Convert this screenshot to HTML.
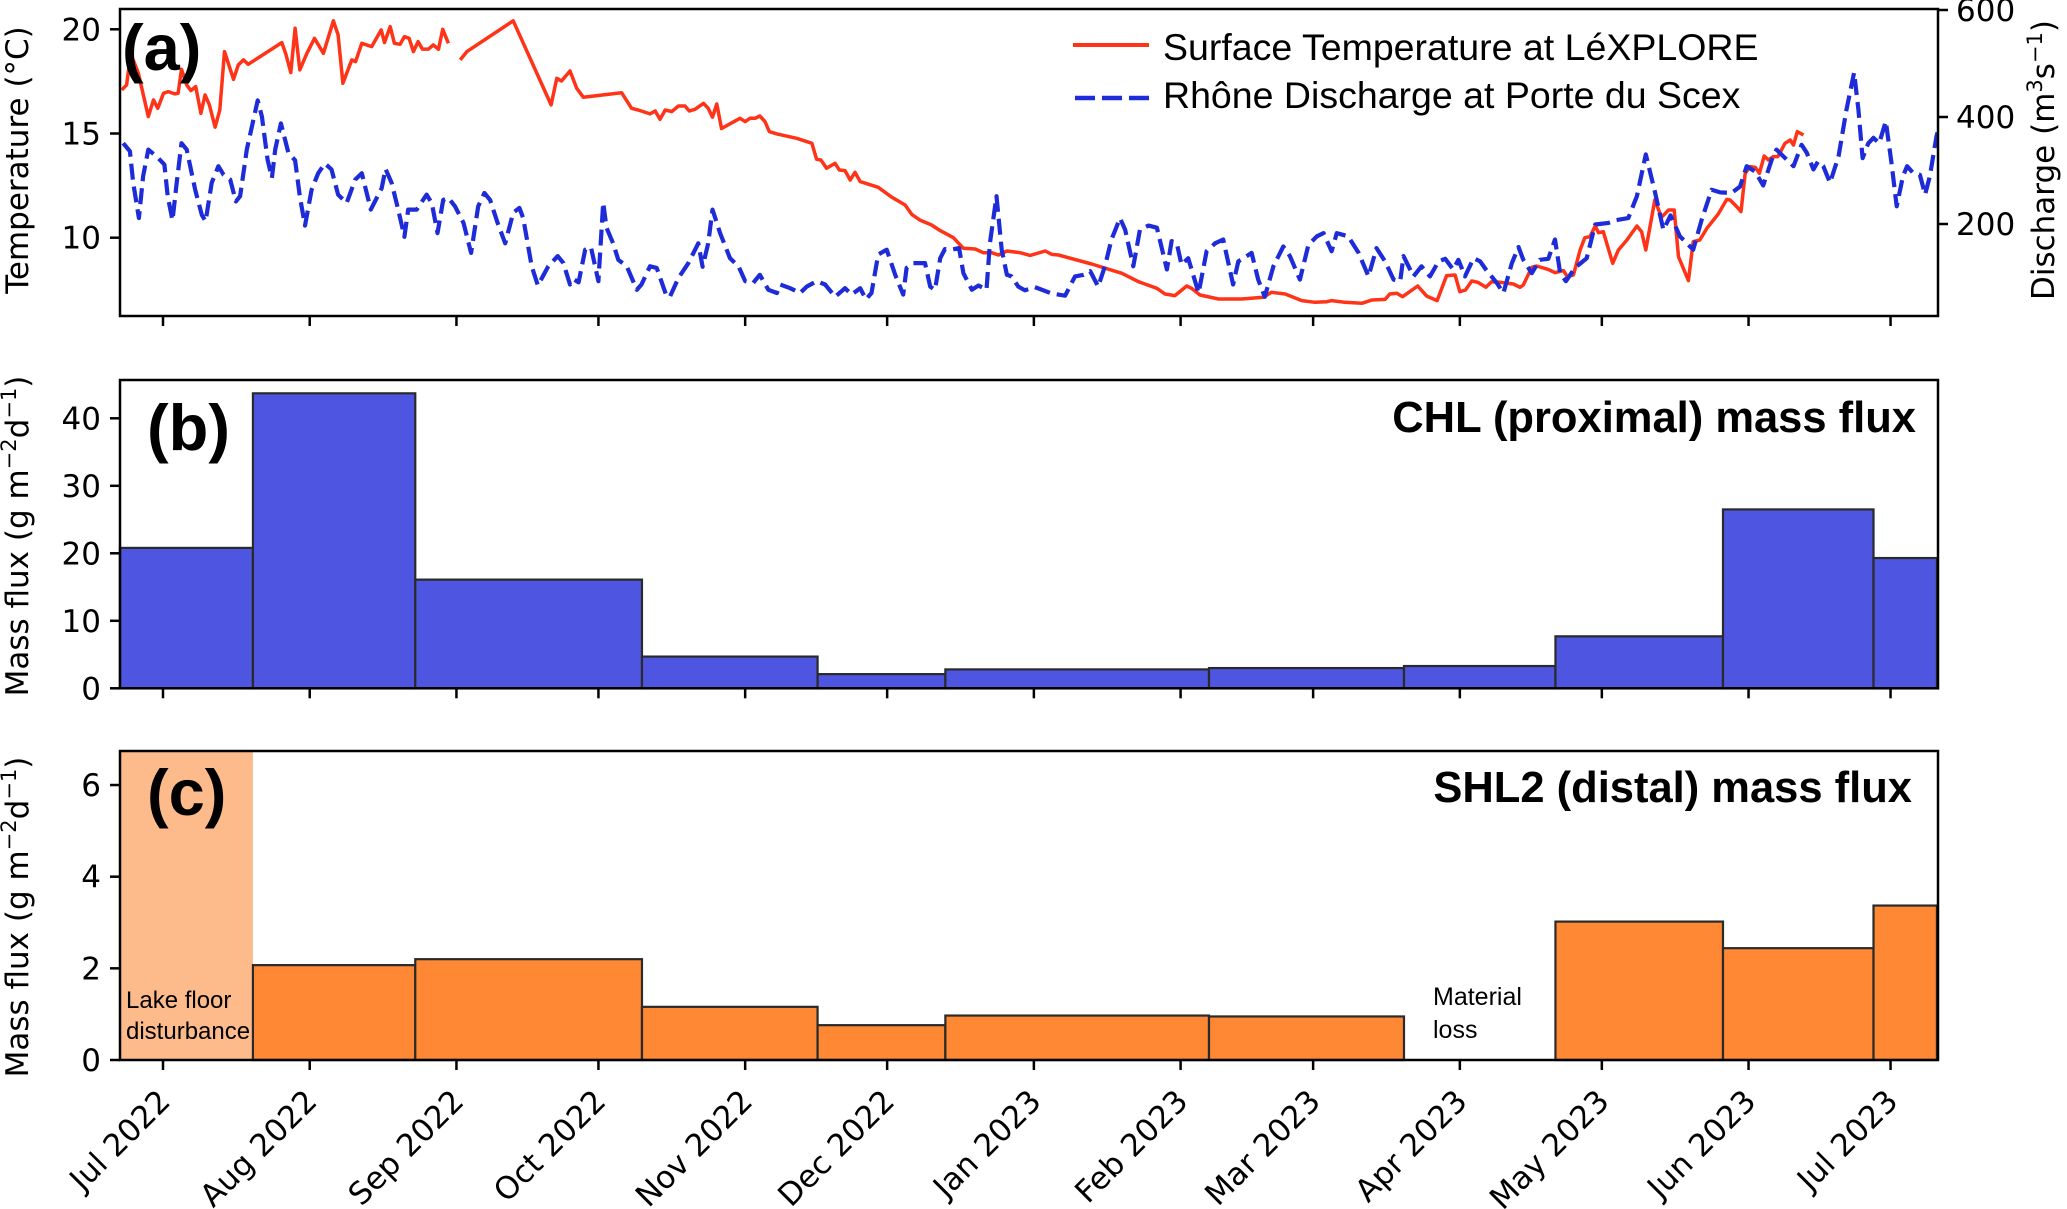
<!DOCTYPE html>
<html>
<head>
<meta charset="utf-8">
<style>
html,body{margin:0;padding:0;background:#fff;}
svg{display:block;}
</style>
</head>
<body>
<svg id="fig" xmlns="http://www.w3.org/2000/svg" width="2067" height="1209" viewBox="0 0 2067 1209">
<defs>
<clipPath id="clipA"><rect x="120" y="9" width="1818" height="307"/></clipPath>
</defs>
<rect x="0" y="0" width="2067" height="1209" fill="#fff"/>
<g id="panelA"></g>
<g id="panelB"></g>
<g id="panelC"></g>
</svg>
<script>
// ---------- data ----------
const monthLabels = ["Jul 2022","Aug 2022","Sep 2022","Oct 2022","Nov 2022","Dec 2022","Jan 2023","Feb 2023","Mar 2023","Apr 2023","May 2023","Jun 2023","Jul 2023"];
const monthDays = [0,31,62,92,123,153,184,215,243,274,304,335,365];
const tempTicks = [10,15,20];
const dischargeTicks = [200,400,600];
const chlTicks = [0,10,20,30,40];
const shlTicks = [0,2,4,6];

const binEdges = [-9.1,19.0,53.3,101.2,138.3,165.3,221.0,262.2,294.2,329.6,361.4,374.8];
const chlValues = [20.8,43.7,16.1,4.7,2.1,2.8,3.0,3.3,7.7,26.5,19.3];
const shlValues = [null,2.07,2.2,1.16,0.76,0.97,0.95,null,3.02,2.44,3.37];

const tempDays = [
-8.7,-7.7,-7.0,-6.3,-5.2,-3.1,-2.0,-1.1,0.1,1.1,
2.5,3.2,3.9,5.0,5.9,6.9,8.0,8.9,9.8,11.0,
12.0,13.0,14.9,15.9,17.0,18.0,25.1,25.9,27.0,27.9,
28.9,30.4,32.0,33.9,36.0,37.0,38.0,39.9,40.7,42.0,
44.1,46.1,46.8,48.0,48.9,50.1,51.0,52.0,52.9,53.9,
54.8,56.1,57.1,58.2,59.1,60.3,61.5,62.8,64.2,74.0,
82.0,83.2,84.2,86.0,87.4,88.8,96.9,99.0,100.8,102.9,
104.0,105.0,106.1,107.5,108.9,110.3,111.2,112.4,114.2,115.2,
116.1,117.0,118.0,121.9,123.0,124.0,125.1,126.1,127.2,128.1,
129.7,133.9,137.1,138.1,139.0,140.2,142.0,142.9,144.1,145.2,
146.2,147.3,151.1,154.0,156.8,158.2,159.9,162.4,164.2,167.0,
169.1,171.6,173.3,175.1,176.5,178.3,181.1,183.2,186.4,187.8,
189.2,196.2,202.6,206.1,210.0,211.7,213.8,216.3,217.3,219.1,
223.0,227.9,232.5,234.2,237.1,240.6,243.4,245.9,246.9,249.7,
253.3,255.4,258.2,259.2,260.7,261.9,265.1,267.0,269.2,271.2,
273.0,274.0,275.2,276.5,277.8,279.5,280.7,282.5,285.3,286.7,
287.4,289.2,290.2,292.7,294.1,295.9,296.7,298.0,299.4,300.4,
301.5,302.6,303.3,304.3,306.3,307.5,309.3,311.4,312.4,313.3,
315.2,316.6,318.1,319.3,320.2,322.3,323.3,324.7,326.2,328.6,
330.4,331.1,332.5,333.4,334.3,335.3,336.4,337.3,338.3,339.2,
340.2,341.2,342.7,343.8,344.5,345.3,346.6];
const tempValues = [
17.09,17.33,18.53,18.53,17.89,15.81,16.61,16.21,16.93,17.01,
16.9,16.93,18.08,17.33,17.06,17.25,15.97,16.85,16.37,15.3,
16.13,18.93,17.6,18.29,18.53,18.32,19.36,18.85,17.92,20.05,
18.05,18.85,19.57,18.85,20.41,19.73,17.41,18.53,18.45,19.33,
19.17,19.97,19.36,20.13,19.33,19.28,19.65,19.57,18.93,19.41,
19.05,19.05,19.25,19.04,20.0,19.33,null,18.53,18.93,20.41,
16.37,17.65,17.52,18.0,17.17,16.74,16.96,16.21,16.1,15.94,
16.08,15.68,16.13,16.05,16.32,16.32,16.08,16.16,16.45,16.21,
15.78,16.42,15.24,15.73,15.57,15.73,15.73,15.84,15.57,15.09,
14.98,14.77,14.53,13.76,13.73,13.33,13.57,13.25,13.22,12.77,
13.14,12.69,12.42,11.94,11.57,11.12,10.85,10.61,10.34,10.0,
9.49,9.46,9.28,9.28,9.17,9.36,9.28,9.15,9.36,9.2,
9.17,8.74,8.29,7.89,7.57,7.3,7.22,7.68,7.57,7.25,
7.06,7.06,7.14,7.38,7.3,6.98,6.9,6.93,6.98,6.9,
6.85,7.01,7.04,7.3,7.33,7.17,7.68,7.2,6.98,8.18,
8.21,7.41,7.49,7.92,7.86,7.62,7.89,7.86,7.78,7.62,
7.73,8.58,8.64,8.48,8.32,8.42,8.13,8.21,9.41,10.0,
10.05,10.56,10.24,10.29,8.77,9.41,9.89,10.56,10.29,9.41,
11.81,10.98,11.33,11.33,9.09,7.94,9.81,9.89,10.45,11.14,
11.84,11.81,11.49,11.25,13.09,13.41,13.38,13.09,13.92,13.73,
13.89,13.89,14.53,14.69,14.45,15.09,14.93];

const dischargeDays = [
-8.4,-7.0,-6.3,-5.1,-4.2,-3.1,-1.3,0.3,1.0,2.0,
2.9,3.9,5.0,6.8,8.2,9.0,10.3,11.7,12.8,14.2,
15.4,16.3,17.7,20.0,20.9,22.1,23.0,23.7,24.9,26.5,
27.9,28.9,30.0,31.4,32.8,34.2,35.6,37.0,38.8,40.6,
42.0,43.9,46.2,47.0,48.3,49.7,51.0,51.8,53.6,55.7,
56.8,58.0,59.2,60.3,61.7,63.5,65.1,66.6,67.9,69.1,
70.7,72.3,74.0,75.3,76.1,77.9,79.2,81.4,83.4,84.6,
86.0,86.7,87.8,89.2,90.4,92.0,93.0,93.7,95.1,96.2,
98.0,100.1,101.1,102.9,104.3,106.4,107.1,108.9,111.0,113.1,
114.0,115.2,116.1,117.7,119.8,121.6,123.0,124.7,126.1,127.9,
129.7,130.4,132.5,134.6,136.0,138.1,139.9,142.0,144.1,145.5,
147.3,148.5,149.7,151.1,152.9,154.7,156.4,157.1,158.5,161.0,
162.1,163.1,164.2,165.2,166.6,168.2,169.1,170.9,172.3,174.0,
174.7,176.1,177.2,178.3,179.3,180.7,182.1,184.2,187.8,190.6,
192.7,194.5,195.9,197.6,199.0,200.4,202.2,203.3,205.0,206.4,
208.2,210.0,212.1,213.1,214.2,215.2,216.6,218.8,220.5,222.3,
224.0,226.1,227.2,228.3,230.0,231.4,232.8,234.6,236.7,238.1,
240.2,242.0,243.8,245.2,246.9,248.0,250.4,252.6,254.7,256.4,
258.2,260.0,261.4,262.1,264.2,265.9,267.7,269.5,270.9,272.6,
273.7,275.1,276.9,278.3,279.5,281.8,283.2,285.0,286.4,287.4,
289.2,290.9,292.7,294.1,295.2,296.4,298.3,300.8,302.6,305.4,
306.8,309.6,311.4,313.3,315.2,317.0,318.5,320.5,323.3,325.1,
327.2,329.0,331.4,333.2,334.6,336.4,338.1,339.9,340.9,342.4,
344.5,346.2,347.3,348.7,349.7,350.8,352.2,354.0,355.7,357.3,
358.2,359.1,360.3,361.4,362.6,364.0,365.2,366.3,367.6,368.5,
369.8,371.2,372.3,373.3,374.7,375.5];
const dischargeValues = [
351,336,277,211,289,339,326,311,252,207,
277,351,339,264,217,205,277,308,292,283,
242,252,339,431,401,320,286,339,388,333,
319,252,197,264,295,313,302,255,239,283,
295,227,267,303,277,227,176,227,227,255,
239,183,245,249,233,202,146,233,258,245,
202,164,221,230,211,121,85,121,140,127,
87,97,91,152,157,93,240,193,164,133,
121,77,87,121,118,65,64,99,127,164,
120,164,227,183,136,121,93,90,105,77,
71,87,80,71,83,93,87,64,80,68,
80,59,71,143,152,105,68,118,127,127,
83,77,136,153,152,155,108,77,85,77,
164,252,152,105,102,83,76,82,70,66,
102,105,112,83,121,171,211,189,121,189,
197,193,115,168,164,124,136,71,149,164,
171,87,130,136,146,96,64,121,158,140,
96,161,177,183,149,183,177,146,102,155,
130,96,93,140,102,121,102,130,135,115,
133,102,136,130,115,90,71,127,157,133,
108,133,135,171,108,93,118,136,199,202,
207,211,252,330,261,189,216,177,152,208,
264,259,258,270,308,298,272,320,339,326,
308,348,333,302,317,308,277,326,414,483,
414,323,351,361,351,392,314,233,289,308,
295,292,255,289,364,390];

// ---------- layout ----------
const NS = "http://www.w3.org/2000/svg";
const L = 120, R = 1938;
const PA = {top:9, bottom:316};
const PB = {top:380, bottom:688.3};
const PC = {top:751, bottom:1060};
const xDay = d => 163 + d * 4.733;
const yTemp = t => 237.7 - (t - 10) * 20.84;
const yQ = q => 224 - (q - 200) * 0.535;
const yB = v => PB.bottom - v * 6.75;
const yC = v => PC.bottom - v * 45.83;

function mk(tag, attrs, parent) {
  const e = document.createElementNS(NS, tag);
  for (const k in attrs) e.setAttribute(k, attrs[k]);
  parent.appendChild(e);
  return e;
}
const gA = document.getElementById('panelA');
const gB = document.getElementById('panelB');
const gC = document.getElementById('panelC');
const TICKFONT = '"DejaVu Sans", "Liberation Sans", sans-serif';
const ARIAL = '"Liberation Sans", Arial, sans-serif';
const TFS = 31;

function linePath(days, vals, yf) {
  let d = "", pen = false;
  for (let i = 0; i < days.length; i++) {
    const v = vals[i];
    if (v === null || v === undefined) { pen = false; continue; }
    d += (pen ? "L" : "M") + xDay(days[i]).toFixed(1) + "," + yf(v).toFixed(1);
    pen = true;
  }
  return d;
}

function xTicks(g, p, withLabels) {
  for (let i = 0; i < monthDays.length; i++) {
    const x = xDay(monthDays[i]);
    const t = mk('line', {x1:x, x2:x, y1:p.bottom, y2:p.bottom + 10, stroke:'#000', 'stroke-width':2.5}, g);
    
    
    if (withLabels) {
      const tx = mk('text', {transform:'translate(' + (x + 9) + ',1103) rotate(-45)', 'text-anchor':'end', 'font-family':TICKFONT, 'font-size':TFS, fill:'#000'}, g);
      tx.textContent = monthLabels[i];
      
      
    }
  }
}
function yTicksLeft(g, ticks, yf, nameP) {
  ticks.forEach((v, i) => {
    const y = yf(v);
    const t = mk('line', {x1:L - 10, x2:L, y1:y, y2:y, stroke:'#000', 'stroke-width':2.5}, g);
    
    
    const tx = mk('text', {x:101, y:y + 11, 'text-anchor':'end', 'font-family':TICKFONT, 'font-size':TFS, fill:'#000'}, g);
    tx.textContent = String(v);
    
    
  });
}
function frame(g, p, name) {
  const r = mk('rect', {x:L, y:p.top, width:R - L, height:p.bottom - p.top, fill:'none', stroke:'#000', 'stroke-width':2.5}, g);
  
  
}
function yTitle(g, cx, cy, rot, main, sup1, mid, sup2, end, name) {
  const t = mk('text', {transform:'translate(' + cx + ',' + cy + ') rotate(' + rot + ')', 'text-anchor':'middle', 'font-family':TICKFONT, 'font-size':31, fill:'#000'}, g);
  
  
  if (sup1 === null) { t.textContent = main; return; }
  const a = mk('tspan', {}, t); a.textContent = main;
  const b = mk('tspan', {dy:-12, 'font-size':21}, t); b.textContent = sup1;
  const c = mk('tspan', {dy:12}, t); c.textContent = mid;
  const d = mk('tspan', {dy:-12, 'font-size':21}, t); d.textContent = sup2;
  const e = mk('tspan', {dy:12}, t); e.textContent = end;
}
function panelLabel(g, x, y, txt, name) {
  const t = mk('text', {x:x, y:y, 'font-family':ARIAL, 'font-weight':'bold', 'font-size':65, fill:'#000'}, g);
  t.textContent = txt;
  
  
}

// ---------- panel A ----------
const plotA = mk('g', {'clip-path':'url(#clipA)'}, gA);


const tempLine = mk('path', {d:linePath(tempDays, tempValues, yTemp), fill:'none', stroke:'#ff3318', 'stroke-width':3.5, 'stroke-linejoin':'round'}, plotA);


const qLine = mk('path', {d:linePath(dischargeDays, dischargeValues, yQ), fill:'none', stroke:'#1d2bd8', 'stroke-width':4.2, 'stroke-dasharray':'16 7', 'stroke-linejoin':'round'}, plotA);


frame(gA, PA, 'panel-a-frame');
xTicks(gA, PA, false);
yTicksLeft(gA, tempTicks, yTemp, 'temperature-y');
dischargeTicks.forEach((v, i) => {
  const y = yQ(v);
  const t = mk('line', {x1:R, x2:R + 10, y1:y, y2:y, stroke:'#000', 'stroke-width':2.5}, gA);
  
  
  const tx = mk('text', {x:1956, y:y + 11, 'font-family':TICKFONT, 'font-size':TFS, fill:'#000'}, gA);
  tx.textContent = String(v);
  
  
});
yTitle(gA, 28, 160, -90, 'Temperature (°C)', null, '', '', '', 'temperature-y-axis-title');
yTitle(gA, 2054, 160, -90, 'Discharge (m', '3', 's', '−1', ')', 'discharge-y-axis-title');
panelLabel(gA, 122, 70, '(a)', 'panel-a-label');
// legend
const lg = mk('g', {}, gA);


const l1 = mk('line', {x1:1073, x2:1149, y1:45, y2:45, stroke:'#ff3318', 'stroke-width':4}, lg);


const t1 = mk('text', {x:1163, y:60, 'font-family':ARIAL, 'font-size':37.5, fill:'#000'}, lg);
t1.textContent = 'Surface Temperature at LéXPLORE';


const l2 = mk('line', {x1:1075, x2:1149, y1:98, y2:98, stroke:'#1d2bd8', 'stroke-width':4.5, 'stroke-dasharray':'20 7'}, lg);


const t2 = mk('text', {x:1163, y:108, 'font-family':ARIAL, 'font-size':37.5, fill:'#000'}, lg);
t2.textContent = 'Rhône Discharge at Porte du Scex';



// ---------- panel B ----------
chlValues.forEach((v, i) => {
  const x0 = xDay(binEdges[i]), x1 = xDay(binEdges[i + 1]);
  const y = yB(v);
  const r = mk('rect', {x:x0, y:y, width:x1 - x0, height:PB.bottom - y, fill:'#4e56e1', stroke:'#2a2a2a', 'stroke-width':2.2}, gB);
  
  
});
frame(gB, PB, 'panel-b-frame');
xTicks(gB, PB, false);
yTicksLeft(gB, chlTicks, yB, 'chl-y');
yTitle(gB, 28, 536, -90, 'Mass flux (g m', '−2', 'd', '−1', ')', 'chl-y-axis-title');
panelLabel(gB, 147, 450, '(b)', 'panel-b-label');
const ttlB = mk('text', {x:1916, y:432, 'text-anchor':'end', 'font-family':ARIAL, 'font-weight':'bold', 'font-size':43.5, fill:'#000'}, gB);
ttlB.textContent = 'CHL (proximal) mass flux';



// ---------- panel C ----------
const dist = mk('rect', {x:L, y:PC.top, width:xDay(binEdges[1]) - L, height:PC.bottom - PC.top, fill:'#fdbb8b'}, gC);


shlValues.forEach((v, i) => {
  if (v === null) return;
  const x0 = xDay(binEdges[i]), x1 = xDay(binEdges[i + 1]);
  const y = yC(v);
  const r = mk('rect', {x:x0, y:y, width:x1 - x0, height:PC.bottom - y, fill:'#fe8833', stroke:'#2a2a2a', 'stroke-width':2.2}, gC);
  
  
});
frame(gC, PC, 'panel-c-frame');
xTicks(gC, PC, true);
yTicksLeft(gC, shlTicks, yC, 'shl2-y');
yTitle(gC, 28, 917, -90, 'Mass flux (g m', '−2', 'd', '−1', ')', 'shl2-y-axis-title');
panelLabel(gC, 147, 815, '(c)', 'panel-c-label');
const ttlC = mk('text', {x:1912, y:802, 'text-anchor':'end', 'font-family':ARIAL, 'font-weight':'bold', 'font-size':43.5, fill:'#000'}, gC);
ttlC.textContent = 'SHL2 (distal) mass flux';


const ann1 = mk('text', {x:126, y:1008, 'font-family':ARIAL, 'font-size':24, fill:'#000'}, gC);
ann1.textContent = 'Lake floor';


const ann2 = mk('text', {x:126, y:1039, 'font-family':ARIAL, 'font-size':24, fill:'#000'}, gC);
ann2.textContent = 'disturbance';


const ann3 = mk('text', {x:1433, y:1005, 'font-family':ARIAL, 'font-size':25, fill:'#000'}, gC);
ann3.textContent = 'Material';


const ann4 = mk('text', {x:1433, y:1038, 'font-family':ARIAL, 'font-size':25, fill:'#000'}, gC);
ann4.textContent = 'loss';


</script>
</body>
</html>
